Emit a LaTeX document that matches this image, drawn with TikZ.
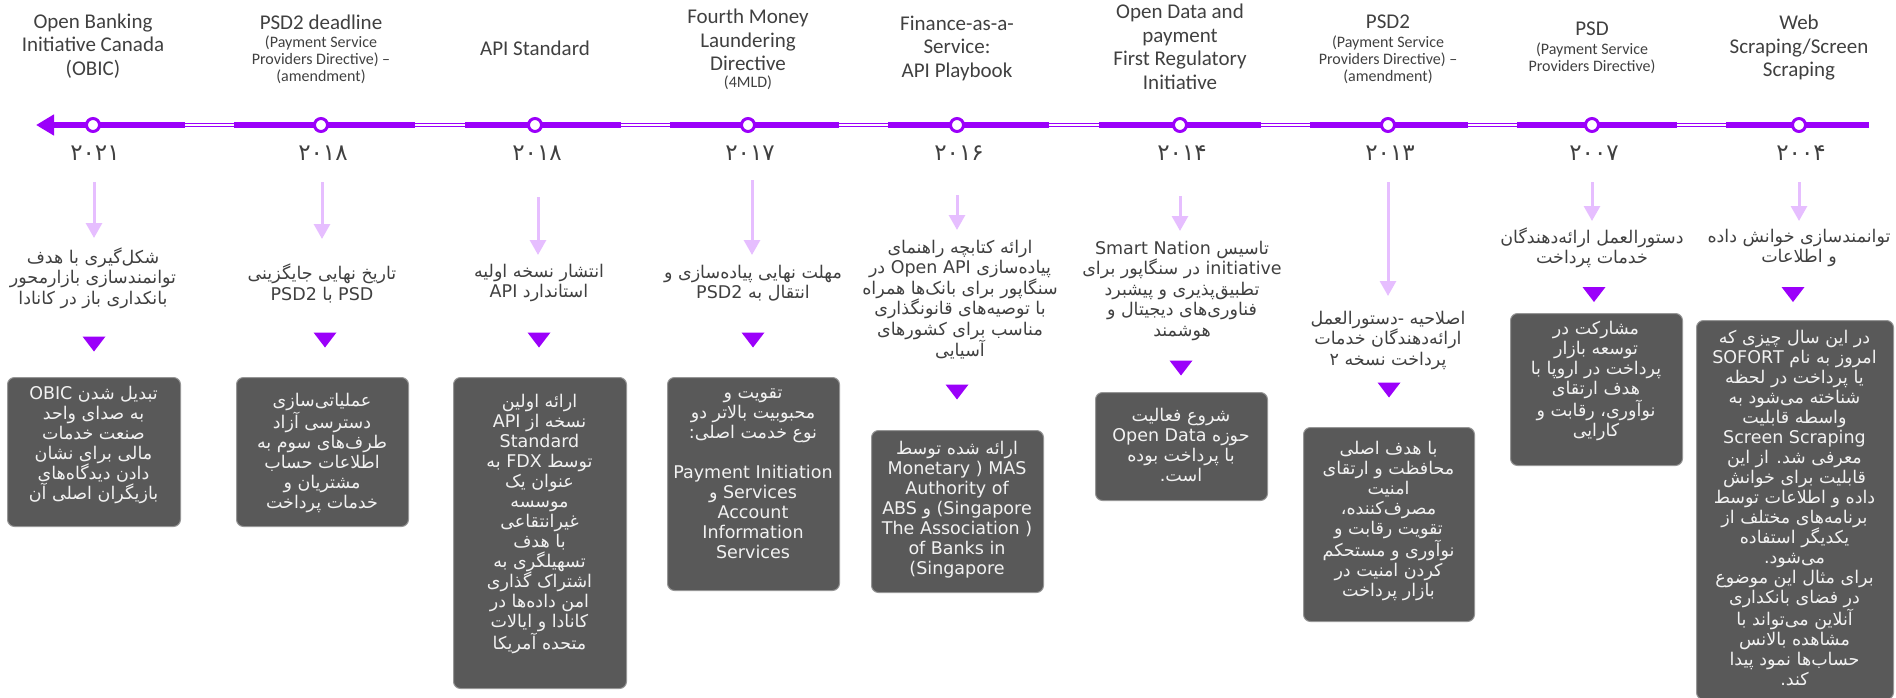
\documentclass[tikz,border=0pt]{standalone}
\usepackage{fontspec}
\usetikzlibrary{arrows.meta}
\TeXXeTstate=1
\setmainfont{DejaVu Sans}
\newfontfamily\farsi[Script=Arabic]{DejaVu Sans}
\newfontfamily\ttlfam{Carlito}
\definecolor{tlpurple}{RGB}{155,0,250}
\definecolor{palepurple}{RGB}{230,190,255}
\definecolor{txtgray}{RGB}{64,64,64}
\definecolor{cardfill}{RGB}{89,89,89}
\definecolor{cardedge}{RGB}{150,150,150}
\definecolor{cardtext}{RGB}{242,242,242}
% one right-to-left line of Persian text
\newcommand\fa[1]{{\farsi\beginR #1\endR}}
% a run of several Latin words inside a Persian line
\newcommand\lat[1]{\beginL #1\endL{}}
\newcommand\ttlsize{\ttlfam\fontsize{21}{23.5}\selectfont}
\newcommand\subsize{\ttlfam\fontsize{16}{17}\selectfont}
\newcommand\descsize{\fontsize{17.5}{20.5}\selectfont}
\newcommand\cardsize{\fontsize{17.5}{20}\selectfont}
\newcommand\yearsize{\farsi\fontsize{23}{26}\selectfont}
\tikzset{
  tl thick/.style={draw=tlpurple, line width=6pt},
  tl thin/.style={draw=tlpurple, line width=4.5pt},
  tl core/.style={draw=white, line width=1.5pt},
  dot/.style={circle, draw=tlpurple, fill=white, line width=3pt, minimum size=13pt, inner sep=0pt},
  year/.style={font=\yearsize, text=txtgray, inner sep=0pt},
  ttl/.style={font=\ttlsize, text=txtgray, align=center, inner sep=0pt},
  sub/.style={font=\subsize, text=txtgray, align=center, inner sep=0pt},
  desc/.style={font=\descsize, text=txtgray, align=center, inner sep=0pt},
  card/.style={draw=cardedge, fill=cardfill, rounded corners=7pt, line width=1pt, inner sep=0pt},
  cardtxt/.style={font=\cardsize, text=cardtext, align=center, inner sep=0pt},
  pale/.style={draw=palepurple, line width=3pt, -{Triangle[width=16pt,length=15pt]}},
}
\begin{document}
\begin{tikzpicture}[x=1pt,y=-1pt]
\useasboundingbox (0,0) rectangle (1896,697);

% ---- headings ----
\node[ttl] (h1) at (93,46) {Open Banking\\Initiative Canada\\(OBIC)};
\node[ttl] (h2) at (321,22) {PSD2 deadline};
\node[sub] (s2) at (321,60) {(Payment Service\\Providers Directive) –\\(amendment)};
\node[ttl] (h3) at (535,48) {API Standard};
\node[ttl] (h4) at (748,40) {Fourth Money\\Laundering\\Directive};
\node[sub] (s4) at (748,83) {(4MLD)};
\node[ttl] (h5) at (957,48) {Finance-as-a-\\Service:\\API Playbook};
\node[ttl] (h6) at (1180,47) {Open Data and\\payment\\First Regulatory\\Initiative};
\node[ttl] (h7) at (1388,22) {PSD2};
\node[sub] (s7) at (1388,60) {(Payment Service\\Providers Directive) –\\(amendment)};
\node[ttl] (h8) at (1592,29) {PSD};
\node[sub] (s8) at (1592,58.5) {(Payment Service\\Providers Directive)};
\node[ttl] (h9) at (1799,48) {Web\\Scraping/Screen\\Scraping};

% ---- time axis ----
\coordinate (tlL) at (36,125);
\coordinate (tlS) at (185,125);
\coordinate (tlR) at (1869,125);
\draw[tl thin] (tlS) -- (tlR);
\draw[tl core] (tlS) -- (tlR);
\foreach \a/\b in {234/415,465/621,670/839,888/1049,1099/1261,1310/1468,1517/1677,1726/1869}
  \draw[tl thick] (\a,125) -- (\b,125);
\draw[tl thick, -{Triangle[length=18pt,width=20pt]}] (tlS) -- (tlL);

\node[dot] (c1) at (93,125) {};
\node[dot] (c2) at (321,125) {};
\node[dot] (c3) at (535,125) {};
\node[dot] (c4) at (748,125) {};
\node[dot] (c5) at (957,125) {};
\node[dot] (c6) at (1180,125) {};
\node[dot] (c7) at (1388,125) {};
\node[dot] (c8) at (1592,125) {};
\node[dot] (c9) at (1799,125) {};

\node[year] (y1) at (95,153) {۲۰۲۱};
\node[year] (y2) at (323,153) {۲۰۱۸};
\node[year] (y3) at (537,153) {۲۰۱۸};
\node[year] (y4) at (750,153) {۲۰۱۷};
\node[year] (y5) at (959,153) {۲۰۱۶};
\node[year] (y6) at (1182,153) {۲۰۱۴};
\node[year] (y7) at (1390,153) {۲۰۱۳};
\node[year] (y8) at (1594,153) {۲۰۰۷};
\node[year] (y9) at (1801,153) {۲۰۰۴};

% ---- pale pointers below the years ----
\foreach \i/\x/\ya/\yb in {1/94/182/238, 2/322/182/239, 3/538/197/255, 4/752/180/255,
    5/957/195/230, 6/1180/196/231, 7/1388/182/296, 8/1592/182/221, 9/1799/182/221} {
  \coordinate (pa\i) at (\x,\ya);
  \coordinate (pb\i) at (\x,\yb);
  \draw[pale] (pa\i) -- (pb\i);
}

% ---- short descriptions ----
\node[desc] (d1) at (93,278) {\fa{شکل‌گیری با هدف}\\\fa{توانمندسازی بازارمحور}\\\fa{بانکداری باز در کانادا}};
\node[desc] (d2) at (322,283.5) {\fa{تاریخ نهایی جایگزینی}\\\fa{PSD با PSD2}};
\node[desc] (d3) at (539,283) {\fa{انتشار نسخه اولیه}\\\fa{استاندارد API}};
\node[desc] (d4) at (753,283) {\fa{مهلت نهایی پیاده‌سازی و}\\\fa{انتقال به PSD2}};
\node[desc] (d5) at (960,299.5) {\fa{ارائه کتابچه راهنمای}\\\fa{پیاده‌سازی \lat{Open API} در}\\\fa{سنگاپور برای بانک‌ها همراه}\\\fa{با توصیه‌های قانونگذاری}\\\fa{مناسب برای کشورهای}\\\fa{آسیایی}};
\node[desc] (d6) at (1182,290.5) {\fa{تاسیس \lat{Smart Nation}}\\\fa{initiative در سنگاپور برای}\\\fa{تطبیق‌پذیری و پیشبرد}\\\fa{فناوری‌های دیجیتال و}\\\fa{هوشمند}};
\node[desc] (d7) at (1388,340) {\fa{اصلاحیه -دستورالعمل}\\\fa{ارائه‌دهندگان خدمات}\\\fa{پرداخت نسخه ۲}};
\node[desc] (d8) at (1592,248) {\fa{دستورالعمل ارائه‌دهندگان}\\\fa{خدمات پرداخت}};
\node[desc] (d9) at (1799,248) {\fa{توانمندسازی خوانش داده}\\\fa{و اطلاعات}};

% ---- purple markers ----
\foreach \x/\y in {94/344, 325/340, 539/340, 753/340, 957/392, 1181/368, 1389/390, 1594/294.5, 1793/294.5}
  \fill[tlpurple] (\x-11.5,\y-7.5) -- (\x+11.5,\y-7.5) -- (\x,\y+7.5) -- cycle;

% ---- cards ----
\node[card, anchor=north west, minimum width=173pt, minimum height=149pt] (b1) at (7,377) {};
\node[card, anchor=north west, minimum width=172pt, minimum height=149pt] (b2) at (236,377) {};
\node[card, anchor=north west, minimum width=173pt, minimum height=311pt] (b3) at (453,377) {};
\node[card, anchor=north west, minimum width=172pt, minimum height=213pt] (b4) at (667,377) {};
\node[card, anchor=north west, minimum width=172pt, minimum height=162pt] (b5) at (871,430) {};
\node[card, anchor=north west, minimum width=172pt, minimum height=108pt] (b6) at (1095,392) {};
\node[card, anchor=north west, minimum width=171pt, minimum height=194pt] (b7) at (1303,427) {};
\node[card, anchor=north west, minimum width=172pt, minimum height=152pt] (b8) at (1510,313) {};
\node[card, anchor=north west, minimum width=197pt, minimum height=379pt] (b9) at (1696,320) {};

\node[cardtxt] (t1) at (93.5,445) {\fa{تبدیل شدن OBIC}\\\fa{به صدای واحد}\\\fa{صنعت خدمات}\\\fa{مالی برای نشان}\\\fa{دادن دیدگاه‌های}\\\fa{بازیگران اصلی آن}};
\node[cardtxt] (t2) at (322,453) {\fa{عملیاتی‌سازی}\\\fa{دسترسی آزاد}\\\fa{طرف‌های سوم به}\\\fa{اطلاعات حساب}\\\fa{مشتریان و}\\\fa{خدمات پرداخت}};
\node[cardtxt] (t3) at (539.5,524) {\fa{ارائه اولین}\\\fa{نسخه از  API}\\Standard\\\fa{توسط FDX به}\\\fa{عنوان یک}\\\fa{موسسه}\\\fa{غیرانتقاعی}\\\fa{با هدف}\\\fa{تسهیلگری به}\\\fa{اشتراک گذاری}\\\fa{امن داده‌ها در}\\\fa{کانادا و ایالات}\\\fa{متحده آمریکا}};
\node[cardtxt] (t4) at (753,474) {\fa{تقویت و}\\\fa{محبوبیت بالاتر دو}\\\fa{نوع خدمت اصلی:}\\[20pt]Payment Initiation\\\fa{Services و}\\Account\\Information\\Services};
\node[cardtxt] (t5) at (957,510) {\fa{ارائه شده توسط}\\Monetary ) MAS\\Authority of\\ABS {\farsi و} (Singapore\\The Association )\\of Banks in\\(Singapore};
\node[cardtxt] (t6) at (1181,445) {\fa{شروع فعالیت}\\\fa{حوزه  \lat{Open Data}}\\\fa{با پرداخت بوده}\\\fa{است.}};
\node[cardtxt] (t7) at (1388.5,521) {\fa{با هدف اصلی}\\\fa{محافظت و ارتقای}\\\fa{امنیت}\\\fa{مصرف‌کننده،}\\\fa{تقویت رقابت و}\\\fa{نوآوری و مستحکم}\\\fa{کردن امنیت در}\\\fa{بازار پرداخت}};
\node[cardtxt] (t8) at (1596,381) {\fa{مشارکت در}\\\fa{توسعه بازار}\\\fa{پرداخت در اروپا با}\\\fa{هدف ارتقای}\\\fa{نوآوری، رقابت و}\\\fa{کارایی}};
\node[cardtxt] (t9) at (1794.5,508) {\fa{در این سال چیزی که}\\\fa{امروز به نام SOFORT}\\\fa{یا پرداخت در لحظه}\\\fa{شناخته می‌شود به}\\\fa{واسطه قابلیت}\\Screen Scraping\\\fa{معرفی شد. از این}\\\fa{قابلیت برای خوانش}\\\fa{داده و اطلاعات توسط}\\\fa{برنامه‌های مختلف از}\\\fa{یکدیگر استفاده}\\\fa{می‌شود.}\\\fa{برای مثال این موضوع}\\\fa{در فضای بانکداری}\\\fa{آنلاین می‌تواند با}\\\fa{مشاهده بالانس}\\\fa{حساب‌ها نمود پیدا}\\\fa{کند.}};
\end{tikzpicture}
\end{document}
